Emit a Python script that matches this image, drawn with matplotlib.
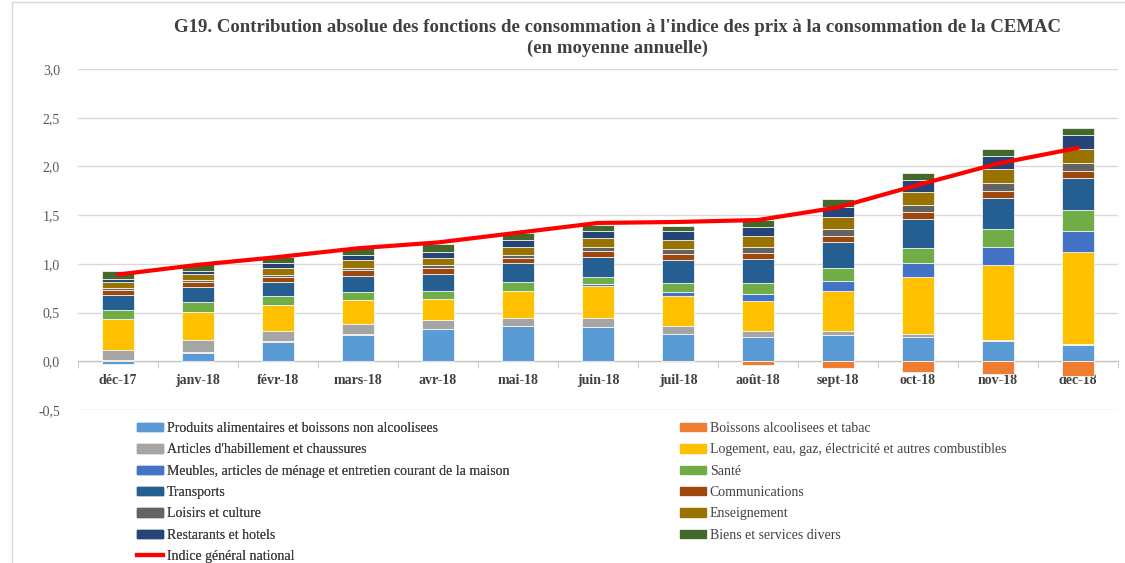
import matplotlib.pyplot as plt
import matplotlib.patches as mpatches
from matplotlib.lines import Line2D
import numpy as np

plt.rcParams['font.family'] = ['Liberation Serif', 'DejaVu Serif']

months = ['déc-17', 'janv-18', 'févr-18', 'mars-18', 'avr-18', 'mai-18', 'juin-18',
          'juil-18', 'août-18', 'sept-18', 'oct-18', 'nov-18', 'déc-18']

food = [-0.03, 0.09, 0.20, 0.27, 0.33, 0.36, 0.35, 0.28, 0.25, 0.265, 0.245, 0.21, 0.17]
alcohol = [0.01, 0.01, 0.005, 0.005, 0.005, 0.0, 0.005, -0.01, -0.04, -0.07, -0.11, -0.13, -0.155]
clothing = [0.11, 0.12, 0.11, 0.11, 0.09, 0.085, 0.09, 0.08, 0.065, 0.05, 0.03, 0.01, 0.01]
housing = [0.31, 0.29, 0.26, 0.24, 0.21, 0.28, 0.33, 0.31, 0.30, 0.41, 0.59, 0.77, 0.945]
furniture = [0.0, 0.0, 0.0, 0.0, 0.0, 0.0, 0.02, 0.045, 0.075, 0.10, 0.144, 0.185, 0.215]
health = [0.10, 0.10, 0.09, 0.085, 0.09, 0.09, 0.07, 0.09, 0.11, 0.13, 0.158, 0.18, 0.21]
transport = [0.15, 0.15, 0.15, 0.17, 0.175, 0.19, 0.21, 0.235, 0.245, 0.27, 0.298, 0.325, 0.335]
comms = [0.05, 0.055, 0.055, 0.055, 0.055, 0.055, 0.055, 0.06, 0.065, 0.065, 0.068, 0.07, 0.07]
leisure = [0.02, 0.02, 0.02, 0.025, 0.03, 0.03, 0.045, 0.05, 0.06, 0.068, 0.072, 0.08, 0.08]
education = [0.06, 0.06, 0.07, 0.08, 0.08, 0.085, 0.09, 0.10, 0.115, 0.124, 0.137, 0.14, 0.14]
restaurants = [0.035, 0.03, 0.045, 0.05, 0.06, 0.07, 0.075, 0.085, 0.09, 0.106, 0.12, 0.136, 0.15]
misc = [0.08, 0.07, 0.07, 0.07, 0.075, 0.07, 0.06, 0.05, 0.08, 0.08, 0.075, 0.075, 0.07]
index_nat = [0.89, 0.99, 1.07, 1.16, 1.22, 1.32, 1.42, 1.43, 1.45, 1.58, 1.81, 2.03, 2.19]

series = [
    ("Produits alimentaires et boissons non alcoolisees", food, '#5B9BD5'),
    ("Boissons alcoolisees et tabac", alcohol, '#ED7D31'),
    ("Articles d'habillement et chaussures", clothing, '#A5A5A5'),
    ("Logement, eau, gaz, électricité et autres combustibles", housing, '#FFC000'),
    ("Meubles, articles de ménage et entretien courant de la maison", furniture, '#4472C4'),
    ("Santé", health, '#70AD47'),
    ("Transports", transport, '#255E91'),
    ("Communications", comms, '#9E480E'),
    ("Loisirs et culture", leisure, '#636363'),
    ("Enseignement", education, '#997300'),
    ("Restarants et hotels", restaurants, '#264478'),
    ("Biens et services divers", misc, '#43682B'),
]

fig = plt.figure(figsize=(11.25, 5.63), dpi=100)
ax = fig.add_axes([78/1125, 1 - 410/563, 1040/1125, 341/563])

x = np.arange(len(months))
pos_base = np.zeros(len(months))
neg_base = np.zeros(len(months))
handles = {}
for name, vals, col in series:
    v = np.array(vals)
    bottom = np.where(v >= 0, pos_base, neg_base)
    ax.bar(x, v, 0.4, bottom=bottom, color=col, edgecolor='white', linewidth=0.5, zorder=3)
    handles[name] = mpatches.Patch(color=col)
    pos_base = pos_base + np.where(v >= 0, v, 0)
    neg_base = neg_base + np.where(v < 0, v, 0)

ax.plot(x, index_nat, color='#FF0000', linewidth=3, zorder=4, solid_capstyle='round')

ax.set_xlim(-0.5, len(months) - 0.5)
ax.set_ylim(-0.5, 3.0)
yt = np.arange(-0.5, 3.01, 0.5)
ax.set_yticks(yt)
ax.set_yticklabels([f"{t:.1f}".replace('.', ',') for t in yt], fontsize=10, color='#595959')
ax.tick_params(axis='y', length=0, pad=13)
ax.grid(axis='y', color='#D9D9D9', linewidth=1, zorder=0)
ax.set_axisbelow(True)

for s in ['top', 'right', 'left']:
    ax.spines[s].set_visible(False)
ax.spines['bottom'].set_position(('data', 0))
ax.spines['bottom'].set_color('#BFBFBF')
ax.set_xticks(x)
ax.set_xticklabels(months, fontsize=10, fontweight='bold', color='#404040')
ax.set_xticks(np.arange(-0.5, len(months), 1), minor=True)
ax.tick_params(axis='x', which='major', length=0, pad=9)
ax.tick_params(axis='x', which='minor', length=5, color='#BFBFBF')

fig.text(0.549, 1 - 27/563, "G19. Contribution absolue des fonctions de consommation à l'indice des prix à la consommation de la CEMAC",
         ha='center', va='center', fontsize=13.5, fontweight='bold', color='#404040')
fig.text(0.549, 1 - 48/563, "(en moyenne annuelle)",
         ha='center', va='center', fontsize=13.5, fontweight='bold', color='#404040')

# legend in two columns
col1 = [series[i] for i in [0, 2, 4, 6, 8, 10]]
col2 = [series[i] for i in [1, 3, 5, 7, 9, 11]]
h1 = [handles[n] for n, _, _ in col1] + [Line2D([], [], color='#FF0000', linewidth=3)]
l1 = [n for n, _, _ in col1] + ["Indice général national"]
h2 = [handles[n] for n, _, _ in col2]
l2 = [n for n, _, _ in col2]
leg_kw = dict(frameon=False, fontsize=10, handlelength=1.85, handleheight=0.55,
              handletextpad=0.3, labelspacing=0.6, borderaxespad=0, borderpad=0)
leg1 = fig.legend(h1, l1, loc='upper left', bbox_to_anchor=(137/1125, 1 - 422/563), **leg_kw)
for t in leg1.get_texts():
    t.set_color('#404040')
fig.add_artist(leg1)
leg2 = fig.legend(h2, l2, loc='upper left', bbox_to_anchor=(680/1125, 1 - 422/563), **leg_kw)
for t in leg2.get_texts():
    t.set_color('#404040')

# chart frame
fig.add_artist(Line2D([12/1125, 12/1125], [0, 1 - 2/563], color='#D9D9D9', linewidth=1))
fig.add_artist(Line2D([12/1125, 1], [1 - 2/563, 1 - 2/563], color='#D9D9D9', linewidth=1))

fig.savefig('out.png', dpi=100)
